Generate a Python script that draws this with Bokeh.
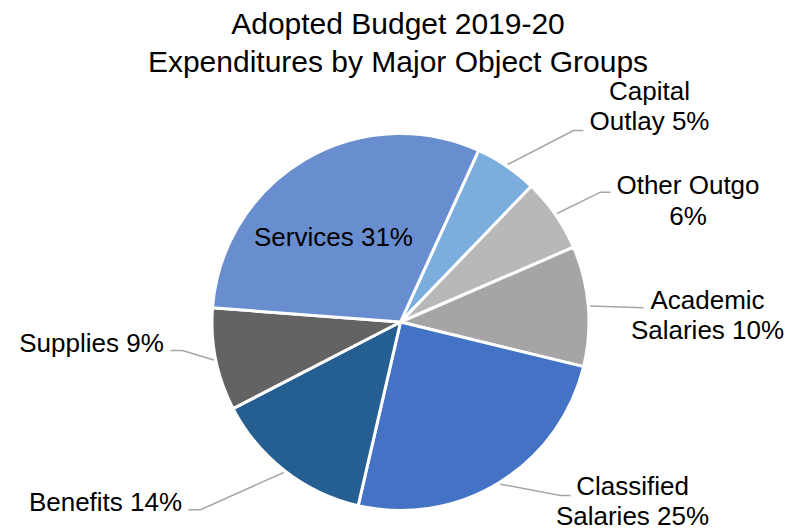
import math
from bokeh.plotting import figure
from bokeh.models import ColumnDataSource, Range1d
from bokeh.core.properties import value
from bokeh.embed import file_html
from bokeh.resources import INLINE

# ---------------- data ----------------
categories = ["Capital Outlay", "Other Outgo", "Academic Salaries",
              "Classified Salaries", "Benefits", "Supplies", "Services"]
shares = [5.4, 6.3, 10.3, 24.8, 13.8, 8.8, 30.6]
label_lines = [["Capital", "Outlay {p}%"], ["Other Outgo", "{p}%"],
               ["Academic", "Salaries {p}%"], ["Classified", "Salaries {p}%"],
               ["Benefits {p}%"], ["Supplies {p}%"], ["Services {p}%"]]
colors = ["#7BAEDC", "#B8B8B8", "#A5A5A5", "#4472C4", "#255E91", "#636363", "#698ED0"]
title_lines = ["Adopted Budget 2019-20", "Expenditures by Major Object Groups"]

# ---------------- layout ----------------
W, H = 796, 531
def X(px): return px
def Y(py): return H - py

LBL, TTL = 26, 30
def TY(py, size):  # baseline correction for rendered text
    return Y(py) + 0.3 * size

cx, cy, R = X(400), Y(321.5), 188.5
start_deg = 24.5  # clockwise from 12 o'clock

# label anchor (center x, first baseline) and leader (elbow, end) in page px
label_pos = [(649, 98.3), (687.5, 192.7), (707, 307.3), (632, 493.5),
             (105, 509.3), (91, 350), (333, 244)]
leaders = [((573, 130), (583, 130)), ((600, 191.7), (610, 191.7)),
           (None, (643, 307.3)), ((560, 495), (570, 495)),
           ((200, 509.3), (188, 509.3)), ((182, 350), (170, 350)), None]
line_gap = 30.2

total = sum(shares)
starts, ends, mids = [], [], []
cum = 0.0
for s in shares:
    a0 = start_deg + cum / total * 360
    a1 = a0 + s / total * 360
    cum += s
    starts.append(math.radians(90 - a1))
    ends.append(math.radians(90 - a0))
    mids.append((a0 + a1) / 2)

p = figure(width=W, height=H, x_range=Range1d(0, W), y_range=Range1d(0, H),
           output_backend="svg", toolbar_location=None,
           x_axis_type=None, y_axis_type=None, min_border=0,
           outline_line_color=None, background_fill_color="white",
           border_fill_color="white")
p.grid.visible = False

src = ColumnDataSource(dict(start=starts, end=ends, color=colors, cat=categories))
p.wedge(x=cx, y=cy, radius=R, start_angle="start", end_angle="end",
        fill_color="color", line_color="white", line_width=3, source=src)

# leaders
for i, ld in enumerate(leaders):
    if ld is None:
        continue
    m = math.radians(mids[i])
    ex = cx + (R + 2) * math.sin(m)
    ey = cy + (R + 2) * math.cos(m)
    xs, ys = [ex], [ey]
    elbow, end = ld
    if elbow is not None:
        xs.append(X(elbow[0])); ys.append(Y(elbow[1]))
    xs.append(X(end[0])); ys.append(Y(end[1]))
    p.line(xs, ys, line_color="#A6A6A6", line_width=1.5)

# labels
tx, ty, tt = [], [], []
for i, lines in enumerate(label_lines):
    pct = round(shares[i] / total * 100)
    lx, ly = label_pos[i]
    for j, ln in enumerate(lines):
        tx.append(X(lx)); ty.append(TY(ly + j * line_gap, LBL)); tt.append(ln.format(p=pct))
p.text(x=tx, y=ty, text=tt, text_font=value("Liberation Sans"),
       text_font_size=f"{LBL}px", text_align="center", text_baseline="alphabetic",
       text_color="black")

# title
p.text(x=[X(397.5), X(397.5)], y=[TY(32.3, TTL), TY(69.5, TTL)], text=title_lines,
       text_font=value("Liberation Sans"), text_font_size=f"{TTL}px",
       text_align="center", text_baseline="alphabetic", text_color="black")

open("out.html", "w").write(file_html(p, INLINE))
